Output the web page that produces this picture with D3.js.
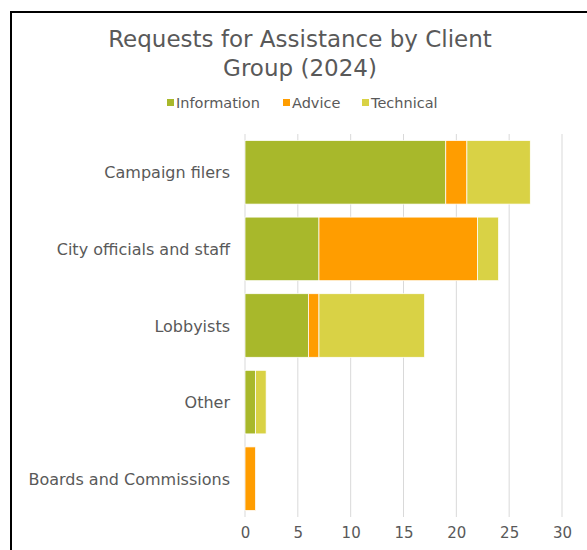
<!DOCTYPE html>
<html>
<head>
<meta charset="utf-8">
<script src="https://cdn.jsdelivr.net/npm/d3@7"></script>
<style>
  html, body { margin: 0; padding: 0; background: #fff; }
  svg { display: block; }
  text { font-family: "DejaVu Sans", sans-serif; }
</style>
</head>
<body>
<svg id="chart" width="587" height="550"></svg>
<script>
const categories = ["Campaign filers", "City officials and staff", "Lobbyists", "Other", "Boards and Commissions"];
const seriesNames = ["Information", "Advice", "Technical"];
const information = [19, 7, 6, 1, 0];
const advice = [2, 15, 1, 0, 1];
const technical = [6, 2, 10, 1, 0];
const xTicks = [0, 5, 10, 15, 20, 25, 30];
const colors = ["#A8B82B", "#FF9D00", "#D9D245"];
const titleLines = ["Requests for Assistance by Client", "Group (2024)"];

const svg = d3.select("#chart");

// frame
svg.append("rect").attr("x", 11).attr("y", 12).attr("width", 600).attr("height", 600)
  .attr("fill", "none").attr("stroke", "#000").attr("stroke-width", 2);

// title
svg.append("text").attr("text-anchor", "middle")
  .attr("fill", "#595959").attr("font-size", 23)
  .selectAll("tspan").data(titleLines).join("tspan")
  .attr("x", 300).attr("y", (d, i) => 47 + i * 29).text(d => d);

// legend
const legendX = [167, 283, 362];
const lg = svg.append("g").selectAll("g").data(seriesNames).join("g")
  .attr("transform", (d, i) => `translate(${legendX[i]},102)`);
lg.append("rect").attr("x", 0).attr("y", -3).attr("width", 7).attr("height", 7)
  .attr("fill", (d, i) => colors[i]);
lg.append("text").attr("x", 9).attr("y", 5.5).attr("font-size", 14.5).attr("fill", "#595959").text(d => d);

const x = d3.scaleLinear().domain([0, 30]).range([245, 562]);
const y = d3.scaleBand().domain(categories).range([134, 517]).paddingInner(0.17).paddingOuter(0.085);

// gridlines
svg.append("g").selectAll("line").data(xTicks).join("line")
  .attr("x1", d => x(d)).attr("x2", d => x(d)).attr("y1", 134).attr("y2", 517)
  .attr("stroke", "#D9D9D9").attr("stroke-width", 1);

// stacked
const rows = categories.map((c, i) => ({ cat: c, Information: information[i], Advice: advice[i], Technical: technical[i] }));
const stack = d3.stack().keys(seriesNames)(rows);
svg.append("g").selectAll("g").data(stack).join("g")
  .attr("fill", (d, i) => colors[i])
  .selectAll("rect").data(d => d.filter(s => s[1] > s[0])).join("rect")
  .attr("x", d => x(d[0])).attr("width", d => x(d[1]) - x(d[0]))
  .attr("y", d => y(d.data.cat)).attr("height", y.bandwidth())
  .attr("stroke", "#fff").attr("stroke-width", 0.75);

// y axis labels
svg.append("g").selectAll("text").data(categories).join("text")
  .attr("x", 230).attr("y", d => y(d) + y.bandwidth() / 2 + 6)
  .attr("text-anchor", "end").attr("font-size", 16).attr("fill", "#595959").text(d => d);

// x axis
const xAxis = svg.append("g").attr("transform", "translate(0,517)")
  .call(d3.axisBottom(x).tickValues(xTicks).tickSize(0).tickPadding(10));
xAxis.select(".domain").remove();
xAxis.selectAll("text").attr("font-size", 15).attr("fill", "#595959")
  .style("font-family", "DejaVu Sans, sans-serif");
</script>
</body>
</html>
